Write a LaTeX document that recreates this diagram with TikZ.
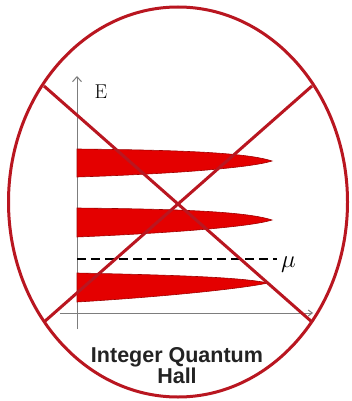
\documentclass[tikz,border=0pt]{standalone}
\usepackage{fontspec}
\setsansfont{Liberation Sans}
\usetikzlibrary{arrows.meta,shapes.geometric}
\definecolor{ringred}{RGB}{185,22,32}
\definecolor{bandred}{RGB}{228,0,0}
\definecolor{bandedge}{RGB}{160,0,0}
\definecolor{axisgray}{RGB}{125,125,125}
\definecolor{textgray}{RGB}{35,35,35}
\tikzset{
  ring/.style={draw=ringred, line width=3pt},
  cross/.style={draw=ringred, line width=3pt},
  band/.style={fill=bandred, draw=bandedge, line width=0.6pt},
  axisline/.style={draw=axisgray, line width=1pt},
  fermi/.style={draw=black, line width=2.6pt, dash pattern=on 9pt off 5pt},
}
\begin{document}
\begin{tikzpicture}[x=1pt,y=-1pt]
\useasboundingbox (0,0) rectangle (351,401);
\fill[white] (0,0) rectangle (351,401);
% axes
\coordinate (ybot) at (77,329);
\coordinate (ytop) at (77,76);
\coordinate (xleft) at (60,313);
\coordinate (xright) at (313,313);
\draw[axisline, -{Straight Barb[length=5pt,width=9pt]}] (ybot) -- (ytop);
\draw[axisline, -{Straight Barb[length=4pt,width=6pt]}] (xleft) -- (xright);
\node[font=\fontsize{20}{20}\selectfont, inner sep=0pt] (elabel) at (101,92) {E};
% bands
\draw[band] (77,149) .. controls (170,150) and (245,152) .. (272,161)
   .. controls (250,168) and (170,174) .. (77,177) -- cycle;
\draw[band] (77,208) .. controls (170,209) and (245,211) .. (272,220)
   .. controls (250,227) and (170,233) .. (77,237) -- cycle;
\draw[band] (77,273) .. controls (170,275) and (240,277) .. (268,283)
   .. controls (240,289) and (160,297) .. (77,302) -- cycle;
% chemical potential
\coordinate (muleft) at (77,259);
\coordinate (muright) at (277,259);
\node[font=\fontsize{32}{32}\selectfont, inner sep=0pt, anchor=base west] (mulabel) at (281,267) {$\mu$};
\draw[fermi] (muleft) -- (muright);
% ring and cross
\node[ring, ellipse, minimum width=339pt, minimum height=390pt, inner sep=0pt] (ring) at (178,202) {};
\coordinate (nw) at (44,86);
\coordinate (ne) at (312,86);
\coordinate (sw) at (44,322);
\coordinate (se) at (312,322);
\draw[cross] (nw) -- (se);
\draw[cross] (ne) -- (sw);
% caption
\node[font=\sffamily\bfseries\fontsize{21.5}{21}\selectfont, text=textgray, align=center, inner sep=0pt] (caption) at (177,366) {Integer Quantum\\Hall};
\end{tikzpicture}
\end{document}
